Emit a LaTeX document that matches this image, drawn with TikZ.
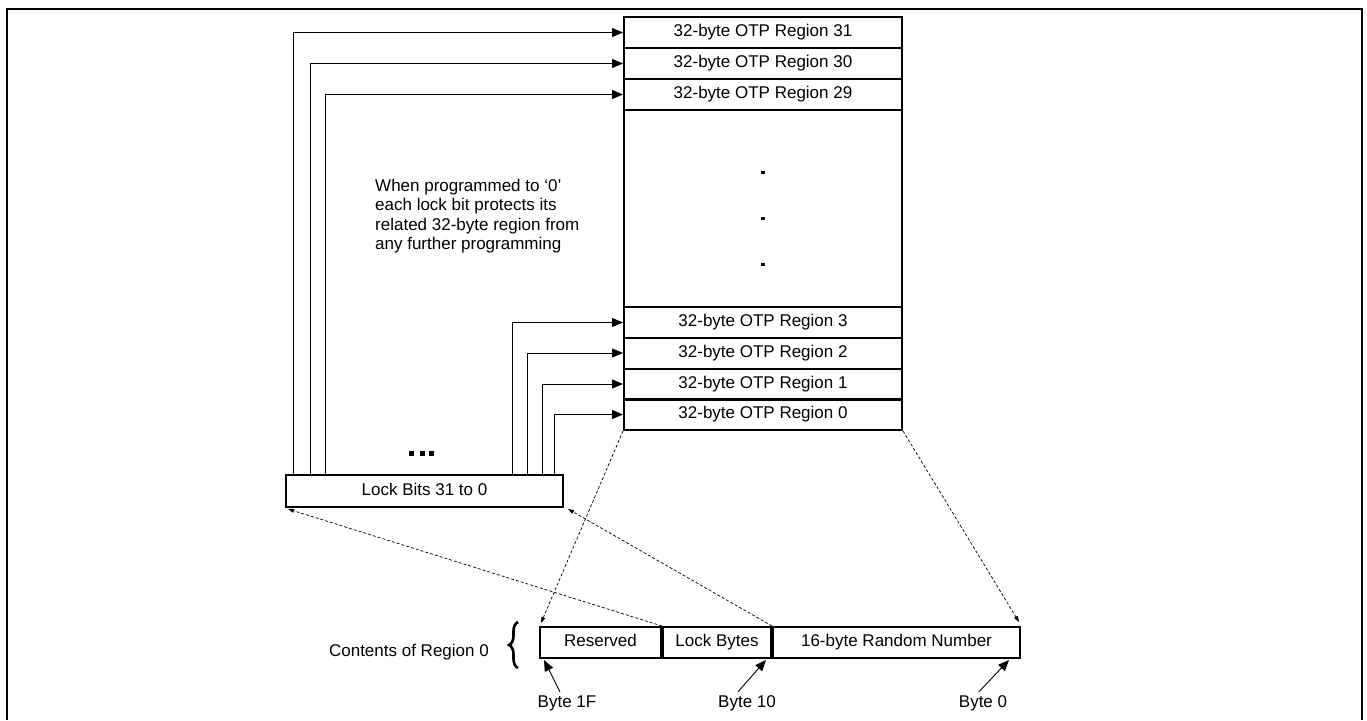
\documentclass[tikz,border=0pt]{standalone}
\usepackage{fontspec}
\setmainfont{Liberation Sans}
\usetikzlibrary{positioning,arrows.meta,calc,decorations.pathreplacing}

\begin{document}
\begin{tikzpicture}[x=1pt, y=-1pt,
    regionbox/.style={draw, line width=2pt, minimum width=278pt, minimum height=31pt, inner sep=0pt,
                text height=12.4pt, text depth=3.6pt},
    bytebox/.style={draw, line width=2pt, minimum height=31pt, inner sep=0pt,
                text height=12.4pt, text depth=3.6pt},
    arrow/.style={-{Triangle[length=11pt,width=9pt]}, line width=0.9pt},
    dasharrow/.style={-{Triangle[length=6pt,width=4pt]}, line width=0.7pt, dash pattern=on 3pt off 2pt},
    every node/.style={font=\fontsize{17}{19.5}\selectfont}
]
\useasboundingbox (0,0) rectangle (1367,720);
\draw[line width=2.5pt] (7,720) -- (7,9) -- (1362,9) -- (1362,720);

\foreach \n/\y in {31/32.5,30/63.5,29/94.5,3/322.5,2/353,1/384,0/414.5} {
    \node[regionbox] (r\n) at (763,\y) {32-byte OTP Region \n};
}
\node[regionbox, minimum height=197pt] (gap) at (763,208.5) {};
\foreach \y in {172,218,264} {
    \fill (761,\y-1.5) rectangle ++(3.5,3.5);
}

\node[regionbox, minimum width=277pt, minimum height=32pt] (lock) at (424.5,491) {Lock Bits 31 to 0};
\foreach \dx/\t in {8/r31,25/r30,40/r29} {
    \draw[arrow] ($(lock.north west)+(\dx,0)$) |- (\t.west);
}
\foreach \dx/\t in {52/r3,37/r2,22/r1,10/r0} {
    \draw[arrow] ($(lock.north east)+(-\dx,0)$) |- (\t.west);
}
\foreach \x in {411,422,431} {
    \fill (\x-2.5,451) rectangle ++(5,5);
}

\node[align=left, anchor=north west, inner sep=0pt] (note) at (375,178.5)
    {When programmed to `0'\\each lock bit protects its\\related 32-byte region from\\any further programming};

\node[bytebox, minimum width=121pt] (res) at (600.5,642.5) {Reserved};
\node[bytebox, minimum width=108pt, anchor=west] (lb) at (res.east) {Lock Bytes};
\node[bytebox, minimum width=247pt, anchor=west] (rnd) at (lb.east) {16-byte Random Number};

\node[anchor=east, inner sep=0pt] (cont) at (489,652) {Contents of Region 0};
\draw[line width=2.6pt, decorate, decoration={brace, amplitude=9pt}] (518,668) -- (518,622);

\node (b1f) at (567,703) {Byte 1F};
\node (b10) at (747,703) {Byte 10};
\node (b0) at (983,703) {Byte 0};
\draw[arrow] ($(b1f.north)+(-7,0)$) -- ($(res.south west)+(5,1)$);
\draw[arrow] ($(b10.north)+(-9,0)$) -- ($(lb.south east)+(-6,1)$);
\draw[arrow] ($(b0.north)+(-4,0)$) -- ($(rnd.south east)+(-12,1)$);

\draw[dasharrow] (r0.south west) -- ($(res.north west)+(2,-3)$);
\draw[dasharrow] (r0.south east) -- ($(rnd.north east)+(-2,-4)$);
\draw[dasharrow] (res.north east) -- ($(lock.south west)+(3,1)$);
\draw[dasharrow] (lb.north east) -- ($(lock.south east)+(4,1)$);
\end{tikzpicture}
\end{document}
